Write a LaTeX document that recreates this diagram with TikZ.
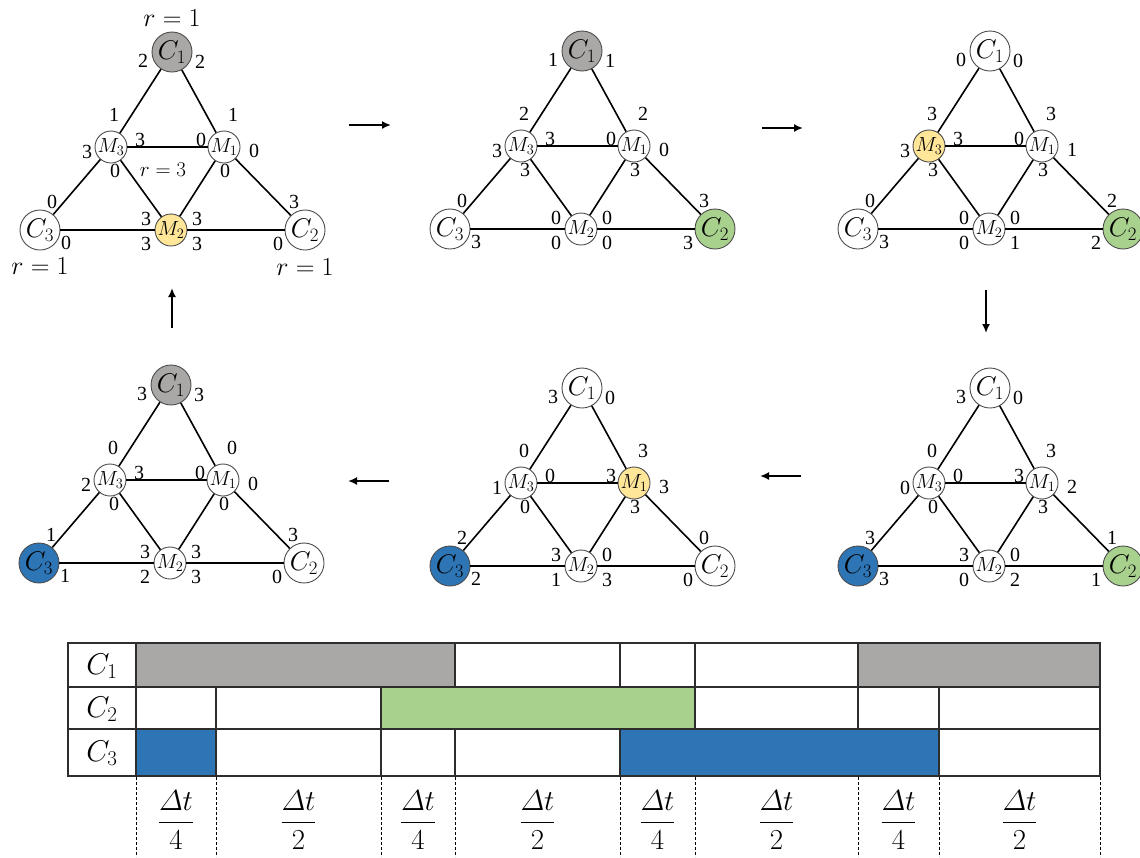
\RequirePackage{fix-cm}
\documentclass[tikz,border=0pt]{standalone}
\usepackage{amsmath}
\usepackage{fontspec}
\setmainfont{Liberation Serif}
\usetikzlibrary{arrows.meta}
\definecolor{cgray}{RGB}{170,167,167}
\definecolor{cgreen}{RGB}{169,209,142}
\definecolor{cblue}{RGB}{46,117,182}
\definecolor{cyel}{RGB}{255,230,153}
\definecolor{tline}{RGB}{45,45,45}
\tikzset{
 cnode/.style={circle,draw=black!70,line width=0.9pt,minimum size=40pt,inner sep=0pt,font=\fontsize{27}{27}\selectfont},
 mnode/.style={circle,draw=black!70,line width=0.9pt,minimum size=32pt,inner sep=0pt,font=\fontsize{20.5}{20.5}\selectfont},
 link/.style={line width=1.6pt,black},
 lab/.style={inner sep=0pt,font=\fontsize{20}{20}\selectfont},
 rlab/.style={inner sep=0pt,font=\fontsize{26}{26}\selectfont},
 rmlab/.style={inner sep=0pt,font=\fontsize{21}{21}\selectfont},
 flow/.style={line width=1.7pt,-{Latex[length=9pt,width=8pt]}},
 tcell/.style={draw=tline,line width=1.1pt},
 dashline/.style={line width=0.8pt,dash pattern=on 3pt off 2pt},
 tlab/.style={inner sep=0pt,font=\fontsize{30}{30}\selectfont},
 fracl/.style={inner sep=0pt,font=\fontsize{29}{29}\selectfont},
}
\newcommand\mypanel[9]{%
 \begin{scope}[shift={(#2,#3)}]
  \node[cnode,fill=#4] (#1C1) at (0,0) {$C_1$};
  \node[cnode,fill=#5] (#1C2) at (133,178) {$C_2$};
  \node[cnode,fill=#6] (#1C3) at (-132,178) {$C_3$};
  \node[mnode,fill=#7] (#1M1) at (52,95) {$M_1$};
  \node[mnode,fill=#8] (#1M2) at (-1,178) {$M_2$};
  \node[mnode,fill=#9] (#1M3) at (-61,95) {$M_3$};
  \draw[link] (#1C1) -- (#1M3);
  \draw[link] (#1C1) -- (#1M1);
  \draw[link] (#1M3) -- (#1M1);
  \draw[link] (#1M3) -- (#1C3);
  \draw[link] (#1M1) -- (#1C2);
  \draw[link] (#1M3) -- (#1M2);
  \draw[link] (#1M1) -- (#1M2);
  \draw[link] (#1C3) -- (#1M2);
  \draw[link] (#1M2) -- (#1C2);
  \coordinate (#1a) at (-29,9);
  \coordinate (#1b) at (28,10);
  \coordinate (#1c) at (-58,63);
  \coordinate (#1d) at (61,63);
  \coordinate (#1e) at (-32,88);
  \coordinate (#1f) at (29,88);
  \coordinate (#1g) at (-85,100);
  \coordinate (#1h) at (82,99);
  \coordinate (#1i) at (-57,119);
  \coordinate (#1j) at (53,119);
  \coordinate (#1k) at (-120,150);
  \coordinate (#1l) at (122,150);
  \coordinate (#1m) at (-26,167);
  \coordinate (#1n) at (25,167);
  \coordinate (#1o) at (-26,192);
  \coordinate (#1p) at (25,192);
  \coordinate (#1q) at (-106,191);
  \coordinate (#1r) at (106,192);
 \end{scope}}
\newcommand\mylabels[2]{%
 \foreach \s/\v in {#2} {\node[lab] (#1\s t) at (#1\s) {\v};}}
\begin{document}
\begin{tikzpicture}[x=1pt,y=-1pt]
\useasboundingbox (0,0) rectangle (1140,857);
\fill[white] (0,0) rectangle (1140,857);
% panels
\mypanel{pa}{172}{52}{cgray}{white}{white}{white}{cyel}{white}
\mylabels{pa}{a/2,b/2,c/1,d/1,e/3,f/0,g/3,h/0,i/0,j/0,k/0,l/3,m/3,n/3,o/3,p/3,q/0,r/0}
\mypanel{pb}{582}{51}{cgray}{cgreen}{white}{white}{white}{white}
\mylabels{pb}{a/1,b/1,c/2,d/2,e/3,f/0,g/3,h/0,i/3,j/3,k/0,l/3,m/0,n/0,o/0,p/0,q/3,r/3}
\mypanel{pc}{990}{51}{white}{cgreen}{white}{white}{white}{cyel}
\mylabels{pc}{a/0,b/0,c/3,d/3,e/3,f/0,g/3,h/1,i/3,j/3,k/0,l/2,m/0,n/0,o/0,p/1,q/3,r/2}
\mypanel{pd}{171}{385}{cgray}{white}{cblue}{white}{white}{white}
\mylabels{pd}{a/3,b/3,c/0,d/0,e/3,f/0,g/2,h/0,i/0,j/0,k/1,l/3,m/3,n/3,o/2,p/3,q/1,r/0}
\mypanel{pe}{582}{388}{white}{white}{cblue}{cyel}{white}{white}
\mylabels{pe}{a/3,b/0,c/0,d/3,e/0,f/3,g/1,h/3,i/0,j/3,k/2,l/0,m/3,n/0,o/1,p/3,q/2,r/0}
\mypanel{pf}{990}{388}{white}{cgreen}{cblue}{white}{white}{white}
\mylabels{pf}{a/3,b/0,c/0,d/3,e/0,f/3,g/0,h/2,i/0,j/3,k/3,l/1,m/3,n/0,o/0,p/2,q/3,r/1}
% r labels
\node[rlab] (rtop) at (172,18) {$r=1$};
\node[rlab] (rleft) at (40,266) {$r=1$};
\node[rlab] (rright) at (305,267) {$r=1$};
\node[rmlab] (rmid) at (163,170) {$r=3$};
% flow arrows
\coordinate (a1s) at (349,125); \coordinate (a1e) at (391,125);
\coordinate (a2s) at (762,128); \coordinate (a2e) at (803,128);
\coordinate (a3s) at (986,290); \coordinate (a3e) at (986,333);
\coordinate (a4s) at (801,476); \coordinate (a4e) at (760,476);
\coordinate (a5s) at (389,481); \coordinate (a5e) at (348,481);
\coordinate (a6s) at (172,328); \coordinate (a6e) at (172,288);
\draw[flow] (a1s) -- (a1e);
\draw[flow] (a2s) -- (a2e);
\draw[flow] (a3s) -- (a3e);
\draw[flow] (a4s) -- (a4e);
\draw[flow] (a5s) -- (a5e);
\draw[flow] (a6s) -- (a6e);
% table fills
\fill[cgray] (136,643) rectangle (455,687);
\fill[cgray] (858,643) rectangle (1100,687);
\fill[cgreen] (381,687) rectangle (695,729);
\fill[cblue] (136,729) rectangle (216,776);
\fill[cblue] (620,729) rectangle (939,776);
% table grid
\draw[tcell] (68,643) rectangle (1100,776);
\draw[tcell] (68,687) -- (1100,687);
\draw[tcell] (68,729) -- (1100,729);
\draw[tcell] (136,643) -- (136,776);
\foreach \xx in {455,620,695,858} \draw[tcell] (\xx,643) -- (\xx,687);
\foreach \xx in {216,381,695,858,939} \draw[tcell] (\xx,687) -- (\xx,729);
\foreach \xx in {216,381,455,620,939} \draw[tcell] (\xx,729) -- (\xx,776);
\foreach \xx in {136,216,381,455,620,695,858,939,1100} \draw[dashline] (\xx,777) -- (\xx,857);
% table labels
\node[tlab] (t1) at (102,666) {$C_1$};
\node[tlab] (t2) at (102,709) {$C_2$};
\node[tlab] (t3) at (102,753) {$C_3$};
% fractions
\node[fracl] (f1) at (176,820) {$\dfrac{\varDelta t}{4}$};
\node[fracl] (f2) at (298.5,820) {$\dfrac{\varDelta t}{2}$};
\node[fracl] (f3) at (418,820) {$\dfrac{\varDelta t}{4}$};
\node[fracl] (f4) at (537.5,820) {$\dfrac{\varDelta t}{2}$};
\node[fracl] (f5) at (657.5,820) {$\dfrac{\varDelta t}{4}$};
\node[fracl] (f6) at (776.5,820) {$\dfrac{\varDelta t}{2}$};
\node[fracl] (f7) at (898.5,820) {$\dfrac{\varDelta t}{4}$};
\node[fracl] (f8) at (1019.5,820) {$\dfrac{\varDelta t}{2}$};
\end{tikzpicture}
\end{document}
